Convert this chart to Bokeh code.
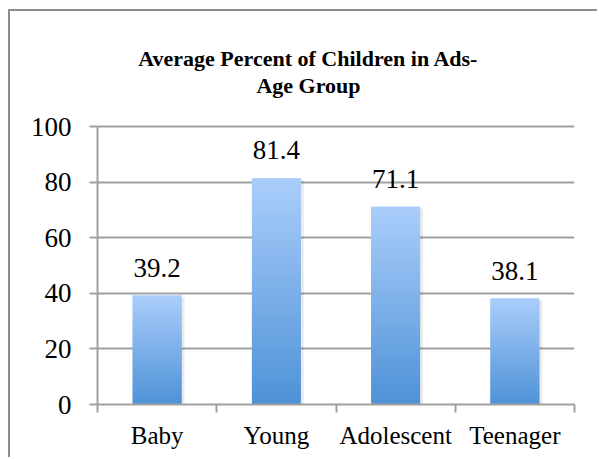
from bokeh.plotting import figure
from bokeh.models import Range1d, FixedTicker, ColumnDataSource, LabelSet, Label
from bokeh.embed import file_html
from bokeh.resources import INLINE

# ---- data ----
categories = ["Baby", "Young", "Adolescent", "Teenager"]
values = [39.2, 81.4, 71.1, 38.1]
value_labels = ["39.2", "81.4", "71.1", "38.1"]
y_ticks = [0, 20, 40, 60, 80, 100]
title_lines = ["Average Percent of Children in Ads-", "Age Group"]

FONT = "Liberation Serif"
GRID = "#a0a0a0"
TOP_RGB = (170, 205, 251)
BOT_RGB = (78, 146, 215)

# frame extends up to the top of the canvas so the title can sit inside it;
# axis and grid are bounded to 0..100
Y_TOP = 141.37
p = figure(width=589, height=448, output_backend="svg", toolbar_location=None,
           x_range=Range1d(0, 4), y_range=Range1d(0, Y_TOP),
           min_border_left=87, min_border_right=25, min_border_top=0,
           min_border_bottom=55)
p.styles = {"border-top": "2px solid #8c8c8c", "border-left": "2px solid #8c8c8c",
            "margin-left": "8px", "margin-top": "9px"}
p.outline_line_color = None
p.background_fill_color = "white"
p.border_fill_color = "white"

# gradient bars built from overlapping slices of each bar
N = 60
bw = 0.41
xs0, xs1, bots, tops, cols = [], [], [], [], []
for i, v in enumerate(values):
    c = i + 0.5
    for k in range(N):
        t = (k + 0.5) / N  # 0 bottom -> 1 top
        r = round(BOT_RGB[0] + (TOP_RGB[0] - BOT_RGB[0]) * t)
        g = round(BOT_RGB[1] + (TOP_RGB[1] - BOT_RGB[1]) * t)
        b = round(BOT_RGB[2] + (TOP_RGB[2] - BOT_RGB[2]) * t)
        xs0.append(c - bw / 2)
        xs1.append(c + bw / 2)
        bots.append(v * k / N)
        tops.append(v * min(k + 2, N) / N)
        cols.append("#%02x%02x%02x" % (r, g, b))

shadow = ColumnDataSource(dict(
    left=[i + 0.5 - bw / 2 + 0.012 for i in range(len(values))],
    right=[i + 0.5 + bw / 2 + 0.025 for i in range(len(values))],
    top=[v - 0.6 for v in values],
    bottom=[0] * len(values)))
p.quad(left="left", right="right", top="top", bottom="bottom", source=shadow,
       fill_color="#000000", fill_alpha=0.08, line_color=None)

p.quad(left=xs0, right=xs1, bottom=bots, top=tops, fill_color=cols, line_color=None)

lab_src = ColumnDataSource(dict(x=[i + 0.5 for i in range(len(values))], y=values, t=value_labels))
p.add_layout(LabelSet(x="x", y="y", text="t", source=lab_src, text_align="center",
                      text_baseline="alphabetic", y_offset=19,
                      text_font=FONT, text_font_size="27px", text_color="#000000"))

# title, two centred lines
for txt, yy in ((title_lines[0], 124.46), (title_lines[1], 114.75)):
    p.add_layout(Label(x=1.769, y=yy, text=txt, text_align="center",
                       text_baseline="alphabetic", text_font=FONT,
                       text_font_size="22px", text_font_style="bold",
                       text_color="#000000"))

# y axis
p.yaxis.ticker = FixedTicker(ticks=y_ticks)
p.yaxis.bounds = (0, 100)
p.yaxis.axis_line_color = GRID
p.yaxis.axis_line_width = 2
p.yaxis.major_tick_line_color = GRID
p.yaxis.major_tick_line_width = 2
p.yaxis.major_tick_in = 0
p.yaxis.major_tick_out = 8
p.yaxis.minor_tick_line_color = None
p.yaxis.major_label_standoff = 18
p.yaxis.major_label_text_font = FONT
p.yaxis.major_label_text_font_size = "27px"
p.yaxis.major_label_text_color = "#000000"

# x axis: labels at centres, ticks at boundaries
p.xaxis.ticker = FixedTicker(ticks=[i + 0.5 for i in range(len(categories))],
                             minor_ticks=list(range(len(categories) + 1)))
p.xaxis.major_label_overrides = {i + 0.5: c for i, c in enumerate(categories)}
p.xaxis.axis_line_color = GRID
p.xaxis.axis_line_width = 2
p.xaxis.major_tick_line_color = None
p.xaxis.major_tick_in = 0
p.xaxis.major_tick_out = 0
p.xaxis.minor_tick_line_color = GRID
p.xaxis.minor_tick_line_width = 2
p.xaxis.minor_tick_in = 0
p.xaxis.minor_tick_out = 8
p.xaxis.major_label_standoff = 9
p.xaxis.major_label_text_font = FONT
p.xaxis.major_label_text_font_size = "25px"
p.xaxis.major_label_text_color = "#000000"

p.xgrid.grid_line_color = None
p.ygrid.ticker = FixedTicker(ticks=y_ticks)
p.ygrid.bounds = (0, 100)
p.ygrid.grid_line_color = GRID
p.ygrid.grid_line_width = 2

open("out.html", "w").write(file_html(p, INLINE))
